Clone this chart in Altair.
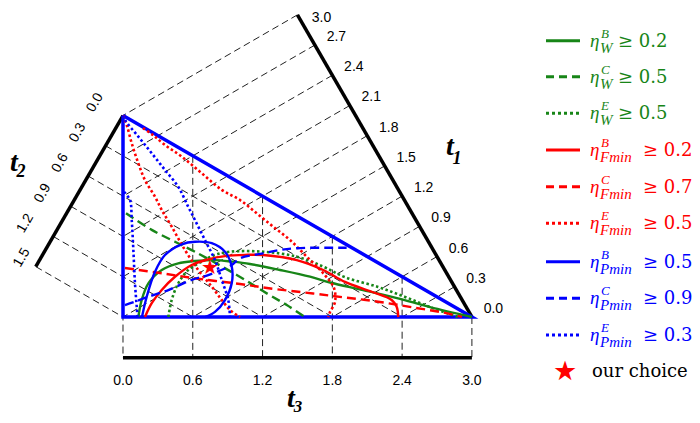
import numpy as np
import pandas as pd
import altair as alt

SQ3 = np.sqrt(3.0)

# ---- axis ticks (t1 + t2 + t3 = 3) ----
T1_TICKS = [0.0, 0.3, 0.6, 0.9, 1.2, 1.5, 1.8, 2.1, 2.4, 2.7, 3.0]
T2_TICKS = [0.0, 0.3, 0.6, 0.9, 1.2, 1.5]
T3_TICKS = [0.0, 0.6, 1.2, 1.8, 2.4, 3.0]

# ---- curves, given as (t3, t1) pairs ----
W_B_T3 = [0.132, 0.161, 0.218, 0.333, 0.475, 0.619, 0.791, 0.935, 1.092, 1.350, 1.608, 1.780, 2.064, 2.356, 2.640, 3.000]
W_B_T1 = [1.434, 1.547, 1.642, 1.684, 1.662, 1.607, 1.528, 1.445, 1.349, 1.175, 0.996, 0.867, 0.669, 0.463, 0.254, 0.000]

W_C_T3 = [0.026, 0.247, 0.447, 0.619, 0.978, 1.236, 1.408, 1.565]
W_C_T1 = [2.259, 2.025, 1.837, 1.676, 1.324, 1.058, 0.885, 0.718]

W_E_T3 = [0.390, 0.419, 0.475, 0.561, 0.677, 0.791, 0.920, 1.206, 1.494, 1.722, 1.909, 2.193, 2.425, 2.640, 2.880]
W_E_T1 = [1.305, 1.418, 1.513, 1.569, 1.574, 1.566, 1.526, 1.383, 1.202, 1.014, 0.842, 0.627, 0.437, 0.254, 0.060]

F_B_T3 = [0.189, 0.247, 0.333, 0.447, 0.591, 0.733, 0.877, 1.049, 1.206, 1.494, 1.722, 1.909, 2.138, 2.310, 2.353, 2.367]
F_B_T1 = [1.405, 1.479, 1.535, 1.576, 1.592, 1.563, 1.515, 1.438, 1.359, 1.177, 0.989, 0.807, 0.619, 0.472, 0.400, 0.316]

F_C_T3 = [0.017, 0.344, 0.662, 1.006, 1.238, 1.634, 1.909, 2.210, 2.494, 2.769, 2.915]
F_C_T1 = [1.856, 1.652, 1.452, 1.243, 1.097, 0.858, 0.691, 0.507, 0.324, 0.146, 0.043]

F_E1_T3 = [0.000, 0.032, 0.075, 0.132, 0.189, 0.275, 0.333, 0.419, 0.533, 0.647, 0.763, 0.849, 0.920, 1.006]
F_E1_T1 = [3.000, 2.914, 2.756, 2.578, 2.425, 2.258, 2.131, 1.963, 1.732, 1.526, 1.345, 1.203, 1.092, 0.997]
F_E2_T3 = [0.172, 0.258, 0.361, 0.505, 0.677, 0.849, 1.006, 1.150, 1.292, 1.436, 1.580, 1.722, 1.814, 1.823, 1.780, 1.765]
F_E2_T1 = [2.821, 2.726, 2.600, 2.442, 2.232, 2.022, 1.868, 1.697, 1.526, 1.355, 1.159, 0.964, 0.809, 0.701, 0.647, 0.617]

P_B_T3 = [0.163, 0.204, 0.275, 0.361, 0.505, 0.619, 0.763, 0.877, 0.935, 0.935, 0.877, 0.791, 0.705]
P_B_T1 = [1.418, 1.549, 1.699, 1.781, 1.789, 1.751, 1.668, 1.547, 1.408, 1.284, 1.188, 1.143, 1.147]

P_C_T3 = [0.017, 0.103, 0.218, 0.390, 0.591, 0.733, 0.935, 1.006, 1.206, 1.350, 1.494, 1.752, 1.923]
P_C_T1 = [1.580, 1.562, 1.542, 1.506, 1.481, 1.446, 1.420, 1.434, 1.371, 1.324, 1.265, 1.140, 1.054]

P_E1_T3 = [0.000, 0.017, 0.132, 0.247, 0.361, 0.475, 0.561, 0.619, 0.705, 0.791, 0.849, 0.905, 0.920]
P_E1_T1 = [3.000, 2.958, 2.777, 2.596, 2.414, 2.232, 2.040, 1.912, 1.720, 1.528, 1.352, 1.174, 1.040]
P_E2_T3 = [0.009, 0.060, 0.075, 0.089, 0.103, 0.118, 0.125]
P_E2_T1 = [2.427, 2.341, 2.185, 1.955, 1.699, 1.518, 1.438]

STAR_T3 = [0.748]
STAR_T1 = [1.491]

# ---- legend ----
LEG_SUP = ["B", "C", "E", "B", "C", "E", "B", "C", "E"]
LEG_SUB = ["W", "W", "W", "Fmin", "Fmin", "Fmin", "Pmin", "Pmin", "Pmin"]
LEG_THR = [0.2, 0.5, 0.5, 0.2, 0.7, 0.5, 0.5, 0.9, 0.3]

GREEN = "#178517"
RED = "#ff0000"
BLUE = "#0000ff"

# plot-area geometry: 1 unit = 116.3 px
XMIN, XMAX = -0.98882, 4.89252
YMIN, YMAX = -0.84265, 2.65692
PPU = 116.3


def px2x(px):  # page pixel -> data x
    return XMIN + (px - 8) / PPU


def py2y(py):  # page pixel -> data y
    return YMAX - (py - 8) / PPU


def to_xy(t3, t1):
    t3 = [float(v) for v in t3]
    t1 = [float(v) for v in t1]
    return t3, [(2.0 * b + a - 3.0) / SQ3 for a, b in zip(t3, t1)]


XS = alt.Scale(domain=[XMIN, XMAX], nice=False, zero=False)
YS = alt.Scale(domain=[YMIN, YMAX], nice=False, zero=False)
X = alt.X("x:Q", scale=XS, axis=None)
Y = alt.Y("y:Q", scale=YS, axis=None)

DASH = {"solid": None, "dashed": [9, 5], "dotted": [2.5, 2.5]}
LDASH = {"solid": None, "dashed": [8, 5], "dotted": [3, 3]}

curves = [
    (W_B_T3, W_B_T1, GREEN, "solid"),
    (W_C_T3, W_C_T1, GREEN, "dashed"),
    (W_E_T3, W_E_T1, GREEN, "dotted"),
    (F_B_T3, F_B_T1, RED, "solid"),
    (F_C_T3, F_C_T1, RED, "dashed"),
    (F_E1_T3, F_E1_T1, RED, "dotted"),
    (F_E2_T3, F_E2_T1, RED, "dotted"),
    (P_B_T3, P_B_T1, BLUE, "solid"),
    (P_C_T3, P_C_T1, BLUE, "dashed"),
    (P_E1_T3, P_E1_T1, BLUE, "dotted"),
    (P_E2_T3, P_E2_T1, BLUE, "dotted"),
]

T3_AXIS_Y = -0.35
T3_LABEL_Y = -0.55

# grid segments
seg = []
for v in T1_TICKS:
    if v == 0:
        continue
    sx, sy = 3 - 0.5 * v, SQ3 / 2 * v
    if v <= 1.5:
        ex, ey = 3 - 2 * v, 0.0
    else:
        ex, ey = 0.0, (v - 1.5) / (SQ3 / 2)
    seg.append(dict(x=sx, y=sy, x2=ex, y2=ey))
for v in T2_TICKS:
    seg.append(dict(x=-0.5 * v, y=SQ3 - SQ3 / 2 * v, x2=3 - 2 * v, y2=0.0))
for v in T3_TICKS:
    seg.append(dict(x=v, y=(3 - v) / SQ3, x2=v, y2=T3_AXIS_Y))
gdf = pd.DataFrame(seg)

axdf = pd.DataFrame([
    dict(x=3.0, y=0.0, x2=1.5, y2=SQ3 / 2 * 3),
    dict(x=0.0, y=SQ3, x2=-0.75, y2=SQ3 - SQ3 / 2 * 1.5),
    dict(x=0.0, y=T3_AXIS_Y, x2=3.0, y2=T3_AXIS_Y),
])

tri = pd.DataFrame(dict(x=[0.0, 0.0, 3.0, 0.0], y=[SQ3, 0.0, 0.0, SQ3], i=[0, 1, 2, 3]))

# tick label positions: axis point + a pixel offset (kept inside the page)
t1_off = [(21.5, -8.0) if v < 3.0 else (24.0, 3.0) for v in T1_TICKS]
t1lab = pd.DataFrame(dict(
    x=[3 - 0.5 * v + o[0] / PPU for v, o in zip(T1_TICKS, t1_off)],
    y=[SQ3 / 2 * v - o[1] / PPU for v, o in zip(T1_TICKS, t1_off)],
    t=[f"{v:.1f}" for v in T1_TICKS]))
t2_off = [(-28.0, -13.0) if v < 1.5 else (-14.0, -9.0) for v in T2_TICKS]
t2lab = pd.DataFrame(dict(
    x=[-0.5 * v + o[0] / PPU for v, o in zip(T2_TICKS, t2_off)],
    y=[SQ3 - SQ3 / 2 * v - o[1] / PPU for v, o in zip(T2_TICKS, t2_off)],
    t=[f"{v:.1f}" for v in T2_TICKS]))
t3lab = pd.DataFrame(dict(x=T3_TICKS, y=[T3_LABEL_Y] * len(T3_TICKS), t=[f"{v:.1f}" for v in T3_TICKS]))

layers = []
layers.append(alt.Chart(gdf).mark_rule(color="#222222", strokeWidth=1, strokeDash=[7, 4]).encode(
    x=X, y=Y, x2="x2:Q", y2="y2:Q"))
layers.append(alt.Chart(axdf).mark_rule(color="black", strokeWidth=3.5).encode(
    x=X, y=Y, x2="x2:Q", y2="y2:Q"))
layers.append(alt.Chart(tri).mark_line(color=BLUE, strokeWidth=3.5).encode(
    x=X, y=Y, order="i:Q"))

tick_font = "Liberation Sans"
layers.append(alt.Chart(t1lab).mark_text(font=tick_font, fontSize=14, color="black").encode(
    x=X, y=Y, text="t:N"))
layers.append(alt.Chart(t2lab).mark_text(font=tick_font, fontSize=14, angle=300, color="black").encode(
    x=X, y=Y, text="t:N"))
layers.append(alt.Chart(t3lab).mark_text(font=tick_font, fontSize=14, color="black").encode(
    x=X, y=Y, text="t:N"))


def label_df(px, py, s):
    return pd.DataFrame(dict(x=[px2x(px)], y=[py2y(py)], t=[s]))


def title_layer(s, px, py, size):
    return alt.Chart(label_df(px, py, s)).mark_text(fontSize=size, font="Liberation Serif", fontWeight="bold",
                                                     fontStyle="italic", color="black").encode(
        x=X, y=Y, text="t:N")


layers += [title_layer("t", 450, 147, 28), title_layer("1", 457, 159, 18),
           title_layer("t", 14, 163, 28), title_layer("2", 21, 172, 18),
           title_layer("t", 291, 399, 28), title_layer("3", 298, 407, 17)]

# legend (page-pixel layout converted to plot units)
LEG_PY = [40.7, 76.7, 113.3, 150, 186.7, 223.3, 261.7, 298.3, 335]
LEG_COL = [GREEN] * 3 + [RED] * 3 + [BLUE] * 3
LEG_STYLE = ["solid", "dashed", "dotted"] * 3
for k in range(9):
    yk = py2y(LEG_PY[k])
    col = LEG_COL[k]
    st = LEG_STYLE[k]
    seg_df = pd.DataFrame(dict(x=[px2x(546)], y=[yk], x2=[px2x(580)], y2=[yk]))
    kw = dict(color=col, strokeWidth=3)
    if LDASH[st] is not None:
        kw["strokeDash"] = LDASH[st]
    layers.append(alt.Chart(seg_df).mark_rule(**kw).encode(x=X, y=Y, x2="x2:Q", y2="y2:Q"))
    tx = 618 if LEG_SUB[k] == "W" else 643
    parts = [
        (590, "\u03b7", 6, "Liberation Serif", 19, "italic"),
        (601, LEG_SUP[k], -3, "Liberation Serif", 13, "italic"),
        (600, LEG_SUB[k], 12, "Liberation Serif", 15, "italic"),
        (tx, "\u2265 " + f"{LEG_THR[k]:.1f}", 6, "DejaVu Serif", 18, "normal"),
    ]
    for (ppx, s, ddy, fnt, fsz, fst) in parts:
        layers.append(alt.Chart(label_df(ppx, LEG_PY[k], s)).mark_text(
            font=fnt, fontSize=fsz, fontStyle=fst, align="left", baseline="alphabetic",
            dy=ddy, color=col).encode(x=X, y=Y, text="t:N"))

layers.append(alt.Chart(label_df(592, 372, "our choice")).mark_text(font="DejaVu Serif", fontSize=18, align="left",
                                                                     baseline="middle", color="black").encode(
    x=X, y=Y, text="t:N"))

for a, b, col, st in curves:
    xs, ys = to_xy(a, b)
    df = pd.DataFrame(dict(x=xs, y=ys, i=list(range(len(xs)))))
    kw = dict(color=col, strokeWidth=2.4 if st != "dotted" else 2.6, interpolate="catmull-rom")
    if DASH[st] is not None:
        kw["strokeDash"] = DASH[st]
    layers.append(alt.Chart(df).mark_line(**kw).encode(x=X, y=Y, order="i:Q"))

# stars (drawn as glyphs)
sx_, sy_ = to_xy(STAR_T3, STAR_T1)
stardf = pd.DataFrame(dict(x=sx_, y=sy_, t=["\u2605"]))
layers.append(alt.Chart(stardf).mark_text(font="DejaVu Sans", fontSize=20, color=RED).encode(
    x=X, y=Y, text="t:N"))
layers.append(alt.Chart(label_df(565, 372, "\u2605")).mark_text(font="DejaVu Sans", fontSize=27, color=RED).encode(
    x=X, y=Y, text="t:N"))

chart = alt.layer(*layers).properties(
    width=684, height=407, padding=0, autosize=alt.AutoSizeParams(type="none")
).configure_view(strokeWidth=0)

chart.save("out.html", embed_options={"renderer": "svg", "actions": False})
